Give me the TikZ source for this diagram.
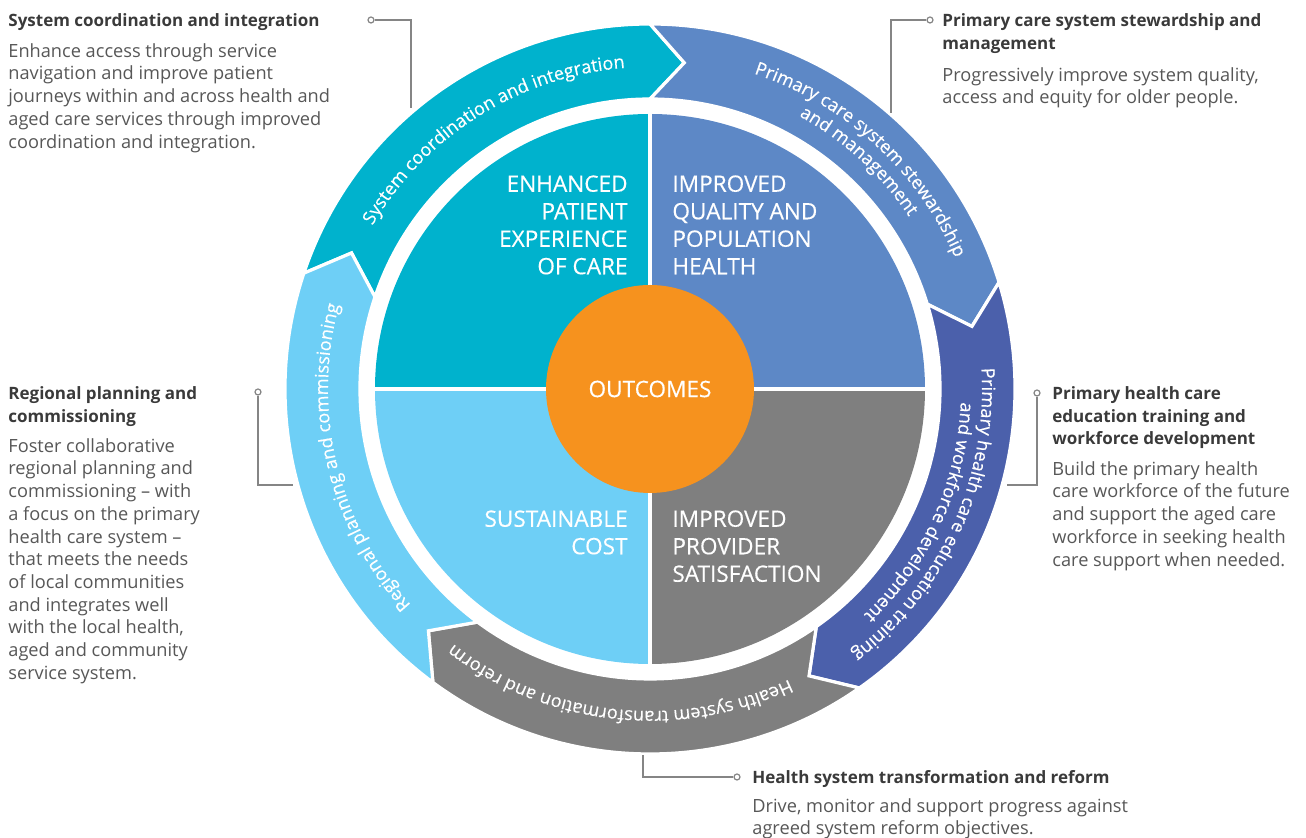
\documentclass[tikz,border=0pt]{standalone}
\usepackage{fontspec}
\setmainfont{Open Sans}
\newfontfamily\medfont[FakeBold=0.35]{Open Sans}
\usetikzlibrary{decorations.text}

\definecolor{coordc}{HTML}{00B2CD}
\definecolor{stewc}{HTML}{5D88C6}
\definecolor{workc}{HTML}{4B60AB}
\definecolor{reformc}{HTML}{7F7F7F}
\definecolor{regionc}{HTML}{6ECFF6}
\definecolor{outc}{HTML}{F6921E}
\definecolor{headc}{HTML}{3A3A3A}
\definecolor{bodyc}{HTML}{575757}
\definecolor{leadc}{HTML}{858585}

\newcommand{\headfont}{\fontsize{8.5}{11.35}\selectfont\bfseries}
\newcommand{\bodyfont}{\fontsize{9.1}{11.35}\selectfont}
\newcommand{\quadfont}{\medfont\fontsize{11.3}{13.75}\selectfont}
\newcommand{\ringfont}{\medfont\fontsize{9.1}{11}\selectfont}

% label written along the ring, centred on angle #1 at radius #2
\newcommand{\ringlabel}[3]{\path[ringtext={#3}] (#1+40:#2) arc[start angle=#1+40, end angle=#1-40, radius=#2];}

\begin{document}
\begin{tikzpicture}[x=0.5pt, y=0.5pt,
  head/.style={anchor=north west, inner sep=0pt, align=left, text=headc, font=\headfont},
  body/.style={anchor=north west, inner sep=0pt, align=left, text=bodyc, font=\bodyfont},
  quad/.style={inner sep=0pt, text=white, font=\quadfont},
  dot/.style={circle, draw=leadc, fill=white, line width=0.6pt, inner sep=0pt, minimum size=3pt},
  lead/.style={draw=leadc, line width=0.6pt},
  ringtext/.style={decorate, decoration={text along path, text align=center, text color=white, text={|\ringfont|#1}}}]
\useasboundingbox (-650,-449) rectangle (656,389);

% outer ring of arrows
\foreach \a/\b/\c in {161.5/90/coordc, 90/17/stewc, 17/-55/workc, -55/-126.5/reformc, 233.5/161.5/regionc}
  \filldraw[fill=\c, draw=white, line width=1.6pt]
    (\a:365) arc[start angle=\a, end angle=\b, radius=365] -- (\b-6:328) -- (\b:290)
    arc[start angle=\b, end angle=\a, radius=290] -- (\a-6:328) -- cycle;

\ringlabel{122}{322}{System coordination and integration}
\ringlabel{47.5}{332}{Primary care system stewardship}
\ringlabel{47.5}{311}{and management}
\ringlabel{-24.5}{332}{Primary health care education training}
\ringlabel{-24.5}{311}{and workforce development}
\ringlabel{-96}{322}{Health system transformation and reform}
\ringlabel{193.5}{322}{Regional planning and commissioning}

% quadrants
\fill[coordc] (0,0) -- (90:275) arc[start angle=90, end angle=180, radius=275] -- cycle;
\fill[stewc] (0,0) -- (0:275) arc[start angle=0, end angle=90, radius=275] -- cycle;
\fill[reformc] (0,0) -- (-90:275) arc[start angle=-90, end angle=0, radius=275] -- cycle;
\fill[regionc] (0,0) -- (180:275) arc[start angle=180, end angle=270, radius=275] -- cycle;
\draw[white, line width=2pt] (0,276) -- (0,-276) (-276,0) -- (276,0);

\node[circle, fill=outc, minimum size=104pt, quad] (out) at (0,0) {OUTCOMES};

\node[quad, anchor=north east, align=right] (q1) at (-22,214) {ENHANCED\\PATIENT\\EXPERIENCE\\OF CARE};
\node[quad, anchor=north west, align=left] (q2) at (22,214) {IMPROVED\\QUALITY AND\\POPULATION\\HEALTH};
\node[quad, anchor=north east, align=right] (q3) at (-22,-121) {SUSTAINABLE\\COST};
\node[quad, anchor=north west, align=left] (q4) at (22,-121) {IMPROVED\\PROVIDER\\SATISFACTION};

% leader lines
\node[dot] (d1) at (-279,369) {};
\node[dot] (d2) at (280,369) {};
\node[dot] (d3) at (387,-4) {};
\node[dot] (d4) at (87,-388) {};
\node[dot] (d5) at (-392,-3) {};
\coordinate (e1) at (-239,281);
\coordinate (e2) at (241,276);
\coordinate (e3) at (357,-96);
\coordinate (e4) at (-7,-366);
\coordinate (e5) at (-357,-96);
\draw[lead] (d1) -| (e1);
\draw[lead] (d2) -| (e2);
\draw[lead] (d3) |- (e3);
\draw[lead] (d4) -| (e4);
\draw[lead] (d5) |- (e5);

% descriptions
\node[head] (h1) at (-642,376) {System coordination and integration};
\node[body] (b1) at (-642,346) {Enhance access through service\\navigation and improve patient\\journeys within and across health and\\aged care services through improved\\coordination and integration.};
\node[head] (h2) at (292,376) {Primary care system stewardship and\\management};
\node[body] (b2) at (292,322) {Progressively improve system quality,\\access and equity for older people.};
\node[head] (h3) at (402,3) {Primary health care\\education training and\\workforce development};
\node[body] (b3) at (402,-72) {Build the primary health\\care workforce of the future\\and support the aged care\\workforce in seeking health\\care support when needed.};
\node[head] (h4) at (102,-381) {Health system transformation and reform};
\node[body] (b4) at (102,-409) {Drive, monitor and support progress against\\agreed system reform objectives.};
\node[head] (h5) at (-642,3) {Regional planning and\\commissioning};
\node[body] (b5) at (-642,-49) {Foster collaborative\\regional planning and\\commissioning -- with\\a focus on the primary\\health care system --\\that meets the needs\\of local communities\\and integrates well\\with the local health,\\aged and community\\service system.};
\end{tikzpicture}
\end{document}
